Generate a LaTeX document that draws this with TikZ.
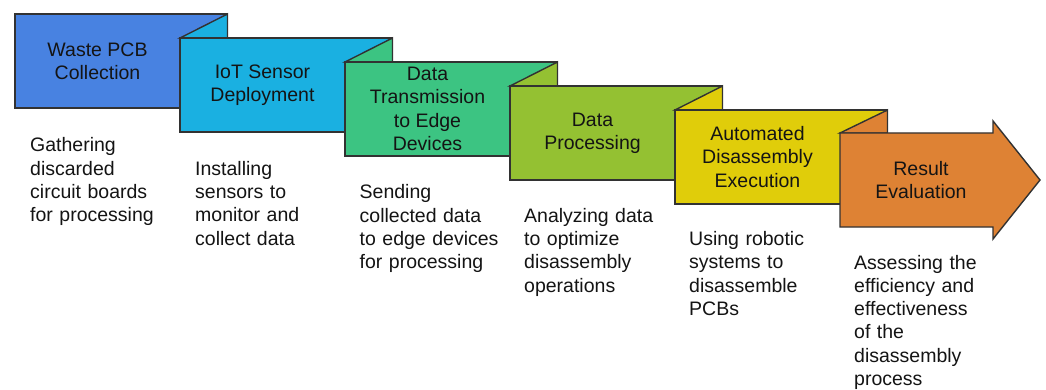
\documentclass[tikz,border=0pt]{standalone}
\usepackage{fontspec}
\setmainfont{Liberation Sans}
\definecolor{edge}{RGB}{50,50,50}
\definecolor{txt}{RGB}{20,20,20}
\definecolor{cA}{RGB}{72,130,225}
\definecolor{cB}{RGB}{26,176,225}
\definecolor{cC}{RGB}{60,196,130}
\definecolor{cD}{RGB}{148,193,50}
\definecolor{cE}{RGB}{224,205,10}
\definecolor{cF}{RGB}{222,130,52}
\begin{document}
\begin{tikzpicture}[x=1pt,y=-1pt,
  outl/.style={draw=edge, line width=1.4pt, line join=miter},
  ttl/.style={align=center, inner sep=0pt, text=txt,
    font=\fontsize{19.5}{23.3}\selectfont},
  dsc/.style={anchor=base west, text width=190pt, align=left, inner sep=0pt, text=txt,
    font=\fontsize{19.5}{23.3}\selectfont}]
\useasboundingbox[fill=white] (0,0) rectangle (1046,390);

% box 1
\path[outl, fill=cA] (15,14) rectangle (227.5,108);
% box 2
\path[outl, fill=cB] (180,38) -- (227.5,14) -- (227.5,38) -- cycle;
\path[outl, fill=cB] (180,38) rectangle (392.5,132);
% box 3
\path[outl, fill=cC] (345,62) -- (392.5,38) -- (392.5,62) -- cycle;
\path[outl, fill=cC] (345,62) rectangle (557.5,156);
% box 4
\path[outl, fill=cD] (510,86) -- (557.5,62) -- (557.5,86) -- cycle;
\path[outl, fill=cD] (510,86) rectangle (722.5,180);
% box 5
\path[outl, fill=cE] (675,110) -- (722.5,86) -- (722.5,110) -- cycle;
\path[outl, fill=cE] (675,110) rectangle (887.5,204);
% box 6 (arrow)
\path[outl, fill=cF] (840,133) -- (887.5,110) -- (887.5,133) -- cycle;
\path[outl, fill=cF] (840,133) -- (993,133) -- (993,121) -- (1040,180)
  -- (993,239) -- (993,227) -- (840,227) -- cycle;

% titles
\node[ttl] (t1) at (97.5,61) {Waste PCB\\Collection};
\node[ttl] (t2) at (262.5,85) {IoT Sensor\\Deployment};
\node[ttl] (t3) at (427.5,109) {Data\\Transmission\\to Edge\\Devices};
\node[ttl] (t4) at (592.5,133) {Data\\Processing};
\node[ttl] (t5) at (757.5,157) {Automated\\Disassembly\\Execution};
\node[ttl] (t6) at (921,180) {Result\\Evaluation};

% descriptions
\node[dsc] (d1) at (30,152) {Gathering\\discarded\\circuit boards\\for processing};
\node[dsc] (d2) at (195,175.4) {Installing\\sensors to\\monitor and\\collect data};
\node[dsc] (d3) at (359.5,198.8) {Sending\\collected data\\to edge devices\\for processing};
\node[dsc] (d4) at (524,222.2) {Analyzing data\\to optimize\\disassembly\\operations};
\node[dsc] (d5) at (689,245.6) {Using robotic\\systems to\\disassemble\\PCBs};
\node[dsc] (d6) at (854,269) {Assessing the\\efficiency and\\effectiveness\\of the\\disassembly\\process};
\end{tikzpicture}
\end{document}
